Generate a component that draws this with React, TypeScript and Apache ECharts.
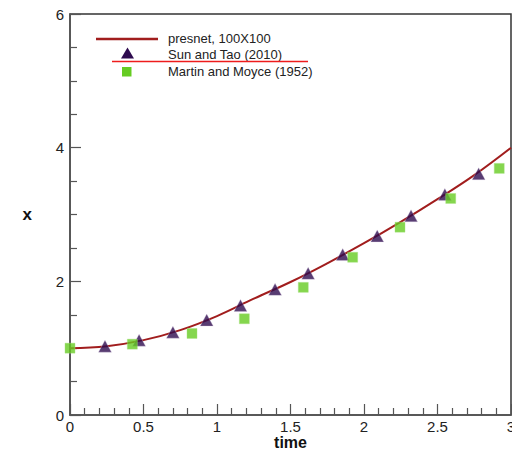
import React, { useEffect, useRef } from "react";
import * as echarts from "echarts";

const curveT = [0, 0.25, 0.5, 0.75, 1.0, 1.25, 1.5, 1.75, 2.0, 2.25, 2.5, 2.75, 3.0];
const curveX = [1.0, 1.03, 1.12, 1.27, 1.48, 1.74, 1.99, 2.27, 2.57, 2.89, 3.23, 3.59, 4.0];

const sunT = [0.238, 0.47, 0.7, 0.93, 1.16, 1.395, 1.62, 1.855, 2.09, 2.32, 2.55, 2.78];
const sunX = [1.03, 1.12, 1.24, 1.42, 1.64, 1.88, 2.12, 2.4, 2.68, 2.98, 3.3, 3.61];

const martinT = [0, 0.424, 0.83, 1.186, 1.587, 1.923, 2.245, 2.59, 2.92];
const martinX = [1.0, 1.06, 1.22, 1.44, 1.91, 2.36, 2.81, 3.24, 3.69];

const legendNames = ["presnet, 100X100", "Sun and Tao (2010)", "Martin and Moyce (1952)"];

const LINE_COLOR = "#a11d1d";
const TRI_COLOR = "#2e0b4f";
const SQ_COLOR = "#66cc22";
const FONT = "Liberation Sans, Arial, sans-serif";

export default function App() {
  const ref = useRef<HTMLDivElement>(null);
  useEffect(() => {
    if (!ref.current) return;
    const chart = echarts.init(ref.current, undefined, { renderer: "svg" });
    const zip = (a: number[], b: number[]) => a.map((v, i) => [v, b[i]]);
    chart.setOption({
      animation: false,
      backgroundColor: "#ffffff",
      textStyle: { fontFamily: FONT },
      grid: {
        left: 70,
        right: 1,
        top: 14,
        bottom: 35,
        containLabel: false,
        outerBoundsMode: "none",
        show: true,
        borderColor: "#333",
        borderWidth: 1.5,
        backgroundColor: "transparent",
      },
      xAxis: {
        type: "value",
        min: 0,
        max: 3,
        interval: 0.5,
        name: "time",
        nameLocation: "middle",
        nameGap: 27,
        nameMoveOverlap: false,
        nameTextStyle: {
          fontSize: 16,
          fontWeight: "bold",
          color: "#111",
          fontFamily: FONT,
          verticalAlign: "middle",
        },
        axisLine: { show: true, onZero: false, lineStyle: { color: "#555", width: 1.5 } },
        axisTick: { show: true, inside: true, length: 11, lineStyle: { color: "#555", width: 1.2 } },
        minorTick: { show: true, splitNumber: 5, length: 7, lineStyle: { color: "#555", width: 1.2 } },
        axisLabel: {
          margin: 4,
          fontSize: 15,
          color: "#222",
          fontFamily: FONT,
          formatter: (v: number) => String(v),
        },
        splitLine: { show: false },
      },
      yAxis: {
        type: "value",
        min: 0,
        max: 6,
        interval: 2,
        name: "x",
        nameLocation: "middle",
        nameGap: 38,
        nameRotate: 0,
        nameMoveOverlap: false,
        nameTextStyle: { fontSize: 17, fontWeight: "bold", color: "#111", fontFamily: FONT },
        axisLine: { show: true, onZero: false, lineStyle: { color: "#555", width: 1.5 } },
        axisTick: { show: true, inside: true, length: 11, lineStyle: { color: "#555", width: 1.2 } },
        minorTick: { show: true, splitNumber: 4, length: 7, lineStyle: { color: "#555", width: 1.2 } },
        axisLabel: { margin: 6, fontSize: 15, color: "#222", fontFamily: FONT },
        splitLine: { show: false },
      },
      series: [
        {
          name: legendNames[0],
          type: "line",
          data: zip(curveT, curveX),
          smooth: 0.4,
          showSymbol: false,
          lineStyle: { color: LINE_COLOR, width: 2 },
          z: 2,
        },
        {
          name: legendNames[1],
          type: "scatter",
          data: zip(sunT, sunX),
          symbol: "triangle",
          symbolSize: [13, 12],
          itemStyle: { color: TRI_COLOR, borderColor: "#d8cce4", borderWidth: 0.4 },
          z: 3,
        },
        {
          name: legendNames[2],
          type: "scatter",
          data: zip(martinT, martinX),
          symbol: "rect",
          symbolSize: 10,
          itemStyle: { color: SQ_COLOR, borderColor: "#a8e080", borderWidth: 0.5 },
          z: 4,
        },
      ],
      graphic: [
        { type: "line", shape: { x1: 96, y1: 39, x2: 158, y2: 39 }, style: { stroke: LINE_COLOR, lineWidth: 2.5 } },
        { type: "text", x: 168, y: 38, style: { text: legendNames[0], fontSize: 13, fill: "#222", fontFamily: FONT, verticalAlign: "middle" } },
        { type: "polygon", shape: { points: [[127.5, 47.5], [121, 58.5], [134, 58.5]] }, style: { fill: TRI_COLOR } },
        { type: "text", x: 168, y: 54, style: { text: legendNames[1], fontSize: 13, fill: "#222", fontFamily: FONT, verticalAlign: "middle" } },
        { type: "line", shape: { x1: 112, y1: 61.5, x2: 308, y2: 61.5 }, style: { stroke: "#ee1c1c", lineWidth: 1.5 } },
        { type: "rect", shape: { x: 122, y: 67, width: 9.5, height: 9.5 }, style: { fill: SQ_COLOR } },
        { type: "text", x: 168, y: 71, style: { text: legendNames[2], fontSize: 13, fill: "#222", fontFamily: FONT, verticalAlign: "middle" } },
      ],
    });
    return () => chart.dispose();
  }, []);
  return (
    <div
      ref={ref}
      style={{ position: "absolute", left: 0, top: 0, width: 512, height: 450 }}
    />
  );
}
